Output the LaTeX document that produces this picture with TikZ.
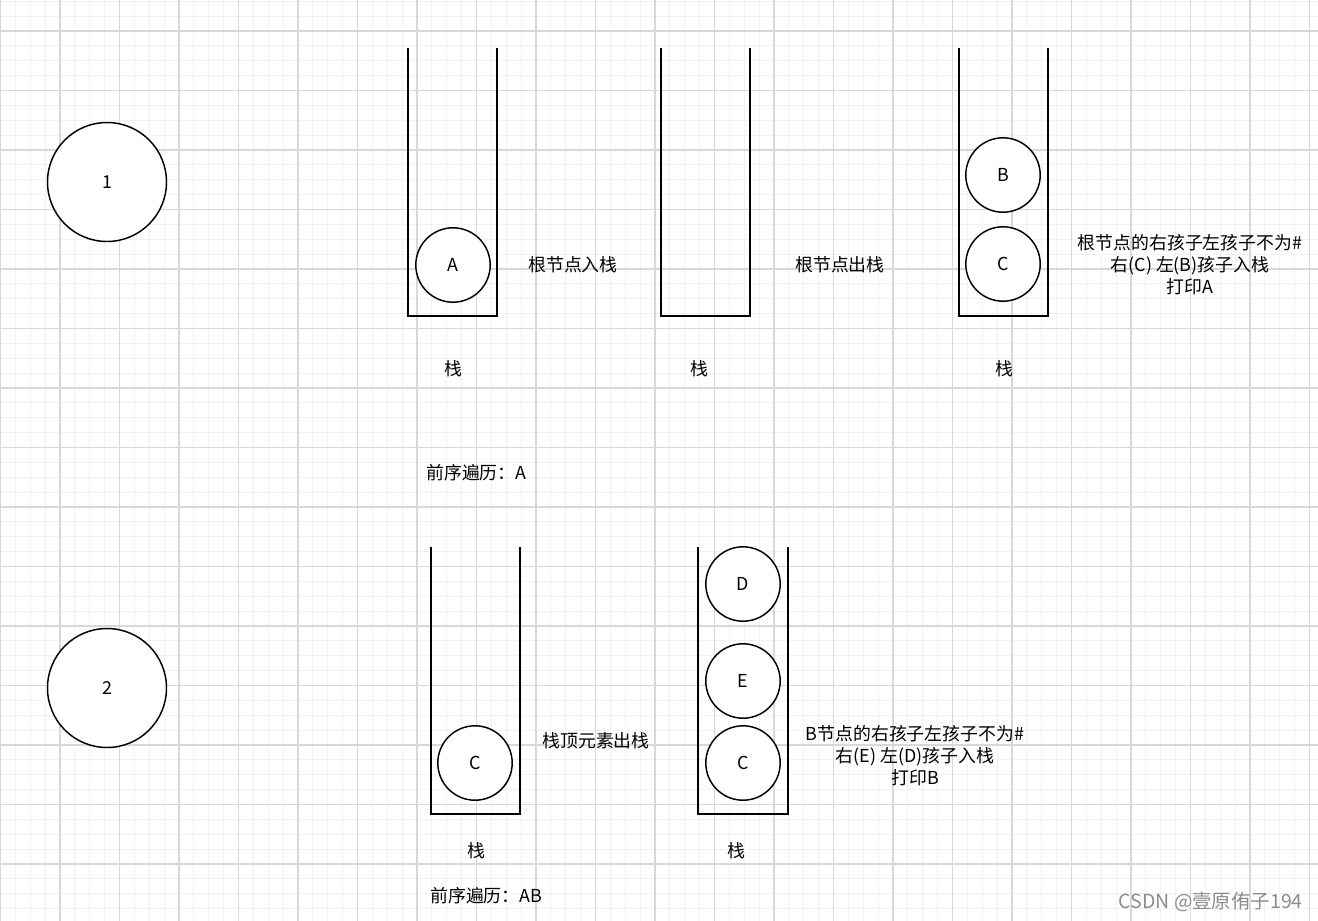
\documentclass[tikz,border=0pt]{standalone}
\usepackage{fontspec}
\setmainfont{Noto Sans CJK SC}
\usepackage{tikz}
\usetikzlibrary{calc}
\definecolor{minorgrid}{HTML}{F2F2F2}
\definecolor{majorgrid}{HTML}{D8D8D8}
\tikzset{
    minorline/.style={minorgrid, line width=0.9pt},
    majorline/.style={majorgrid, line width=0.9pt},
    stackline/.style={line width=1.1pt},
    bignode/.style={circle, draw, line width=1.1pt, fill=white, minimum size=89.25pt, inner sep=0pt},
    elem/.style={circle, draw, line width=1.1pt, fill=white, minimum size=55.8pt, inner sep=0pt},
    lbl/.style={inner sep=0pt, font=\fontsize{13.4}{16.5}\selectfont, align=center}
}

\begin{document}
\begin{tikzpicture}[x=0.75pt, y=-0.75pt]
\useasboundingbox (0,0) rectangle (1318,921);
\fill[white] (0,0) rectangle (1318,921);

%grid
\begin{scope}
\clip (0,0) rectangle (1318,921);
\foreach \k in {0,...,89} \draw[minorline] ({0.5+\k*14.875},0) -- ++(0,921);
\foreach \k in {0,...,62} \draw[minorline] (0,{1.25+\k*14.875}) -- ++(1318,0);
\foreach \k in {0,...,22} \draw[majorline] ({0.5+\k*59.5},0) -- ++(0,921);
\foreach \k in {-1,...,15} \draw[majorline] (0,{31+\k*59.5}) -- ++(1318,0);
\end{scope}

%1
\node[bignode, lbl] (one) at (107,182) {1};

\draw[stackline] (408,48) |- (497,316) -- (497,48);
\node[elem, lbl] (a1) at (453,265) {A};
\node[lbl] (push1) at (573,265) {根节点入栈};
\node[lbl] (s1) at (453,369) {栈};

\draw[stackline] (661,48) |- (750,316) -- (750,48);
\node[lbl] (pop1) at (840,265) {根节点出栈};
\node[lbl] (s2) at (699,369) {栈};

\draw[stackline] (959,48) |- (1048,316) -- (1048,48);
\node[elem, lbl] (b1) at (1003,175) {B};
\node[elem, lbl] (c1) at (1003,264) {C};
\node[lbl] (note1) at (1190,265) {根节点的右孩子左孩子不为\#\\右(C) 左(B)孩子入栈\\打印A};
\node[lbl] (s3) at (1004,369) {栈};

\node[lbl, anchor=west] (pre1) at (426,473) {前序遍历：A};

%2
\node[bignode, lbl] (two) at (107,688) {2};

\draw[stackline] (431,547) |- (520,814) -- (520,547);
\node[elem, lbl] (c2) at (475,763) {C};
\node[lbl] (pop2) at (596,741) {栈顶元素出栈};
\node[lbl] (s4) at (476,851) {栈};

\draw[stackline] (698,547) |- (788,814) -- (788,547);
\node[elem, lbl] (d2) at (743,584) {D};
\node[elem, lbl] (e2) at (743,681) {E};
\node[elem, lbl] (c3) at (743,763) {C};
\node[lbl] (note2) at (915,756) {B节点的右孩子左孩子不为\#\\右(E) 左(D)孩子入栈\\打印B};
\node[lbl] (s5) at (736,851) {栈};

\node[lbl, anchor=west] (pre2) at (430,896) {前序遍历：AB};

\node[lbl, anchor=east, text=black!45, font=\fontsize{14.6}{17}\selectfont] (mark) at (1303,902) {CSDN @壹原侑子194};

\end{tikzpicture}
\end{document}
